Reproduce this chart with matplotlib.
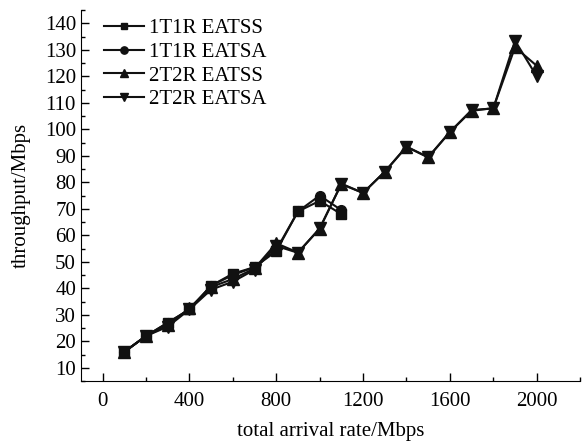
import matplotlib.pyplot as plt
import numpy as np
from matplotlib.ticker import MultipleLocator

plt.rcParams["font.family"] = ["Liberation Serif", "DejaVu Serif"]

rate_1t1r = [100, 200, 300, 400, 500, 600, 700, 800, 900, 1000, 1100]
rate_2t2r = [100, 200, 300, 400, 500, 600, 700, 800, 900, 1000,
             1100, 1200, 1300, 1400, 1500, 1600, 1700, 1800, 1900, 2000]

t1_eatss = [16, 22, 27, 32, 41, 45.5, 48, 54, 69, 73, 68]
t1_eatsa = [16, 22, 27, 32, 41, 45, 48, 54.5, 69, 75, 69.5]
t2_eatss = [16, 22, 26, 32.5, 40.5, 43.5, 47.5, 57, 53.5, 62.5,
            79.5, 76, 84, 93.5, 89.5, 99, 107, 108, 131, 124]
t2_eatsa = [16, 22, 25.5, 32, 39.5, 42.5, 47, 56, 53.4, 62.6,
            79.3, 76, 84, 93.4, 89.4, 99, 107.3, 107.9, 133.5, 120]

fig = plt.figure(figsize=(5.86, 4.41), dpi=100)
ax = fig.add_axes([0.138, 0.136, 0.852, 0.841])

ax.plot(rate_1t1r, t1_eatss, "-s", color="#111111", lw=1.5, ms=6.5, label="1T1R EATSS")
ax.plot(rate_1t1r, t1_eatsa, "-o", color="#111111", lw=1.5, ms=7, label="1T1R EATSA")
ax.plot(rate_2t2r, t2_eatss, "-^", color="#111111", lw=1.5, ms=8, label="2T2R EATSS")
ax.plot(rate_2t2r, t2_eatsa, "-v", color="#111111", lw=1.5, ms=8, label="2T2R EATSA")

ax.set_xlim(-100, 2200)
ax.set_ylim(5, 145)
ax.set_xticks(np.arange(0, 2001, 400))
ax.set_yticks(np.arange(10, 141, 10))
ax.xaxis.set_minor_locator(MultipleLocator(200))
ax.yaxis.set_minor_locator(MultipleLocator(5))
ax.tick_params(which="both", direction="in", labelsize=15)
ax.tick_params(which="major", length=6, width=1)
ax.tick_params(which="minor", length=3, width=1)
ax.tick_params(axis="x", pad=8)
ax.spines["top"].set_visible(False)
ax.spines["right"].set_visible(False)

ax.set_xlabel("total arrival rate/Mbps", fontsize=15, labelpad=8)
ax.set_ylabel("throughput/Mbps", fontsize=15, labelpad=10)

ax.legend(loc="upper left", frameon=False, fontsize=15, handlelength=1.9,
          borderaxespad=0.0, labelspacing=0.2, handletextpad=0.25,
          markerscale=0.75, bbox_to_anchor=(0.03, 1.0))

fig.savefig("out.png")
